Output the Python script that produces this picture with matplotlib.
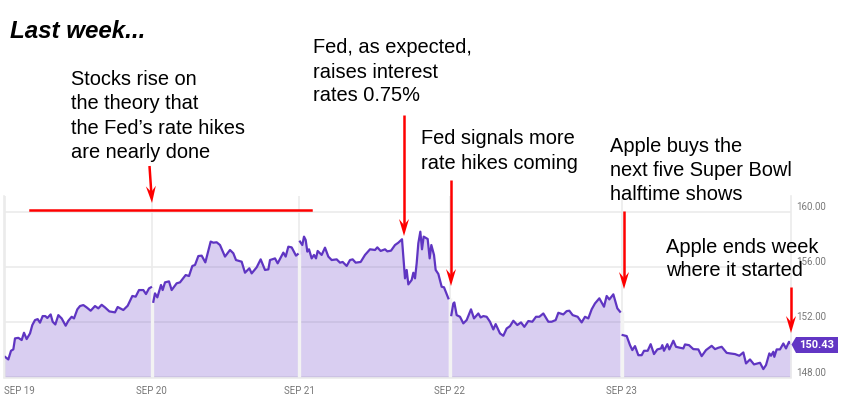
import numpy as np
import matplotlib
matplotlib.use("Agg")
import matplotlib.pyplot as plt
from matplotlib.patches import Polygon

# time along the week, in chart units (3 units = 1 px), each day has its own offset
day_offsets = [0, 0, 290, 290, 580]

sep19_t = [15, 25, 33, 40, 45, 55, 65, 72, 80, 90, 97, 105, 113, 120, 128, 136, 142, 152, 158, 166, 175, 185, 197, 205,
           215, 222, 232, 240, 250, 260, 272, 285, 295, 305, 315, 328, 345, 353, 370, 383, 397, 407, 417, 430, 438, 447, 453]
sep19_p = [149.50, 149.31, 149.94, 150.04, 150.84, 150.88, 150.72, 151.25, 150.79, 151.20, 151.81, 152.17, 152.24, 151.98,
           152.46, 152.46, 152.32, 152.58, 152.05, 151.85, 152.53, 152.29, 151.76, 152.12, 152.41, 152.29, 152.95, 153.19,
           153.26, 153.09, 152.85, 153.19, 153.02, 153.28, 153.09, 152.80, 152.73, 153.12, 152.90, 153.21, 153.92, 153.87,
           154.35, 154.35, 154.06, 154.47, 154.55]

sep20_t = [460, 465, 472, 483, 488, 495, 507, 515, 530, 540, 557, 567, 577, 585, 595, 605, 616, 632, 640, 650, 660, 675,
           690, 700, 708, 725, 735, 748, 755, 770, 782, 795, 805, 810, 825, 833, 850, 857, 865, 875, 888, 893]
sep20_p = [153.50, 154.11, 153.82, 154.72, 154.35, 154.91, 154.98, 154.35, 154.84, 154.91, 155.44, 155.37, 156.10, 156.17,
           156.82, 156.85, 156.36, 157.87, 157.79, 157.82, 157.62, 156.78, 157.26, 157.02, 156.53, 156.41, 155.61, 155.93,
           155.56, 156.00, 156.58, 155.81, 155.85, 156.53, 156.65, 156.29, 157.07, 156.78, 157.50, 157.45, 156.85, 156.95]

sep21_t = [30, 37, 42, 47, 52, 57, 65, 72, 78, 83, 95, 105, 115, 125, 140, 150, 158, 170, 180, 188, 197, 212, 225, 240,
           255, 262, 272, 285, 292, 303, 315, 325, 336, 340, 345, 350, 355, 365, 370, 375, 380, 385, 391, 396, 401, 413,
           419, 424, 432, 437, 445, 455, 462, 475]
sep21_p = [157.87, 157.62, 158.23, 157.99, 157.14, 157.31, 156.65, 156.90, 156.65, 157.19, 156.90, 157.43, 156.78, 156.53,
           156.58, 156.34, 156.39, 156.10, 156.53, 156.58, 156.34, 156.39, 156.90, 157.31, 157.26, 157.45, 157.19, 157.31,
           157.16, 157.21, 157.62, 157.79, 158.04, 156.78, 155.20, 155.81, 154.76, 155.08, 155.61, 155.20, 156.29, 157.75,
           158.59, 157.31, 158.23, 158.06, 156.65, 157.62, 156.90, 155.81, 155.52, 154.59, 154.55, 153.75]

sep22_t = [484, 490, 493, 500, 510, 520, 530, 543, 552, 565, 572, 580, 590, 600, 610, 617, 630, 640, 650, 660, 670, 682,
           693, 703, 715, 727, 738, 748, 760, 775, 785, 797, 805, 820, 830, 838, 848, 863, 875, 885, 895, 905, 915, 928,
           942, 950, 958, 970, 982, 990]
sep22_p = [152.53, 153.38, 153.45, 152.53, 152.41, 151.93, 152.17, 152.95, 152.29, 152.65, 152.36, 152.46, 152.41, 152.05,
           151.49, 151.88, 151.20, 151.03, 151.56, 151.73, 152.12, 151.81, 152.00, 151.68, 152.10, 152.05, 152.41, 152.41,
           152.65, 152.05, 152.05, 152.17, 152.70, 152.58, 152.82, 152.85, 152.53, 152.41, 152.00, 152.41, 152.29, 152.95,
           153.38, 153.75, 153.14, 153.92, 153.67, 154.04, 153.02, 152.78]

sep23_t = [128, 140, 150, 157, 165, 175, 185, 192, 203, 212, 222, 232, 243, 247, 252, 262, 268, 280, 288, 300, 310, 315,
           327, 340, 355, 365, 378, 395, 405, 415, 425, 440, 450, 465, 478, 490, 498, 510, 522, 540, 550, 558, 568, 573,
           580, 583, 590, 600, 610, 618, 627, 633]
sep23_p = [151.08, 151.01, 150.35, 149.99, 150.28, 149.62, 149.62, 149.94, 149.94, 150.42, 149.70, 150.04, 150.11, 150.35,
           149.94, 150.42, 150.04, 150.67, 150.23, 150.16, 150.11, 150.40, 150.35, 150.06, 150.04, 149.55, 149.99, 150.30,
           150.06, 150.16, 150.23, 149.79, 149.75, 149.70, 149.58, 149.82, 149.02, 149.31, 148.95, 149.07, 148.61, 148.90,
           149.75, 149.58, 149.87, 149.50, 150.04, 150.04, 150.47, 150.11, 150.59, 150.43]

days_t = [sep19_t, sep20_t, sep21_t, sep22_t, sep23_t]
days_p = [sep19_p, sep20_p, sep21_p, sep22_p, sep23_p]

day_ticks = [4.5, 151.7, 299, 449.7, 621.7]
day_labels = ["SEP 19", "SEP 20", "SEP 21", "SEP 22", "SEP 23"]
price_ticks = [148, 152, 156, 160]
last_price = 150.43

W, H = 842, 400
PURPLE = "#5f35c2"
RED = "#fe0000"


def fx(x):
    return x / W


def fy(y):
    return 1 - y / H


fig = plt.figure(figsize=(W / 100, H / 100), dpi=100, facecolor="white")
left, right, top, bottom = 4, 791, 196, 377.5
ax = fig.add_axes([fx(left), fy(bottom), fx(right - left), (bottom - top) / H])
ax.set_xlim(left, right)
ax.set_ylim(148, 148 + (bottom - top) / 13.77)

# price, one piece per session
for off, t, p in zip(day_offsets, days_t, days_p):
    x = np.array(t) / 3 + off
    ax.fill_between(x, p, 148, color="#6a3fc8", alpha=0.25, lw=0, zorder=3)
    ax.plot(x, p, color=PURPLE, lw=1.6, zorder=4, solid_joinstyle="round")

# pale band where one session stops and the next one opens
for tick, p in zip(day_ticks[1:], days_p[:-1]):
    ax.vlines(tick, 148, p[-1], color="#f3f3f3", lw=2.4, zorder=3.5)

ax.set_xticks(day_ticks)
ax.set_xticklabels(day_labels, family="Roboto", fontsize=7, color="#777777")
ax.get_xticklabels()[0].set_ha("left")
ax.set_yticks(price_ticks)
ax.set_yticklabels(["%.2f" % v for v in price_ticks], family="Roboto", fontsize=7, color="#777777", va="bottom")
ax.yaxis.tick_right()
ax.tick_params(axis="both", length=0)
ax.tick_params(axis="x", pad=6)
ax.tick_params(axis="y", pad=3.5)
ax.grid(True, color="#ebebeb", lw=1.2, zorder=1)
ax.set_axisbelow(True)
ax.spines["top"].set_visible(False)
for s in ["left", "right", "bottom"]:
    ax.spines[s].set_color("#ebebeb")
    ax.spines[s].set_linewidth(1.2)
    ax.spines[s].set_zorder(5)

# last price tag
tag = [(791.5, 344.5), (796, 337), (838, 337), (838, 353), (796, 353)]
fig.add_artist(Polygon([(fx(a), fy(b)) for a, b in tag], closed=True, transform=fig.transFigure,
                       facecolor="#6236c4", edgecolor="none"))
fig.text(fx(817), fy(345), "%.2f" % last_price, family="Roboto", fontweight="bold", fontsize=8,
         color="white", ha="center", va="center")

# annotations on top
fig.text(fx(10), fy(38), "Last week...", family="Liberation Sans", fontsize=17.4, fontweight="bold",
         style="italic", color="black")

notes = [
    (71, [85, 109, 134, 158], ["Stocks rise on", "the theory that", "the Fed\u2019s rate hikes", "are nearly done"]),
    (313, [53, 78, 101], ["Fed, as expected,", "raises interest", "rates 0.75%"]),
    (421, [144, 169], ["Fed signals more", "rate hikes coming"]),
    (610, [152, 176, 200], ["Apple buys the", "next five Super Bowl", "halftime shows"]),
    (666, [253, 276], ["Apple ends week", "where it started"]),
]
for x, ys, lines in notes:
    for y, line in zip(ys, lines):
        fig.text(fx(x), fy(y), line, family="Liberation Sans", fontsize=14.4, color="black", zorder=10)

arrows = [((149.5, 166), (152, 203)), ((404, 115), (404, 236)), ((451, 180), (451, 286)),
          ((624, 211), (624, 289)), ((791, 287), (791, 333))]
for (x0, y0), (x1, y1) in arrows:
    d = np.array([x1 - x0, y1 - y0], dtype=float)
    d = d / np.hypot(*d)
    n = np.array([-d[1], d[0]])
    tip = np.array([x1, y1], dtype=float)
    head = [tip, tip - 17 * d + 5 * n, tip - 11 * d, tip - 17 * d - 5 * n]
    fig.add_artist(Polygon([(fx(a), fy(b)) for a, b in head], closed=True, transform=fig.transFigure,
                           facecolor=RED, edgecolor="none", zorder=11))
    neck = tip - 11 * d
    fig.add_artist(plt.Line2D([fx(x0), fx(neck[0])], [fy(y0), fy(neck[1])], color=RED, lw=1.8,
                              solid_capstyle="butt", zorder=11))

fig.add_artist(plt.Line2D([fx(30), fx(311)], [fy(210), fy(210)], color=RED, lw=1.8, zorder=11))

fig.savefig("out.png", dpi=100)
